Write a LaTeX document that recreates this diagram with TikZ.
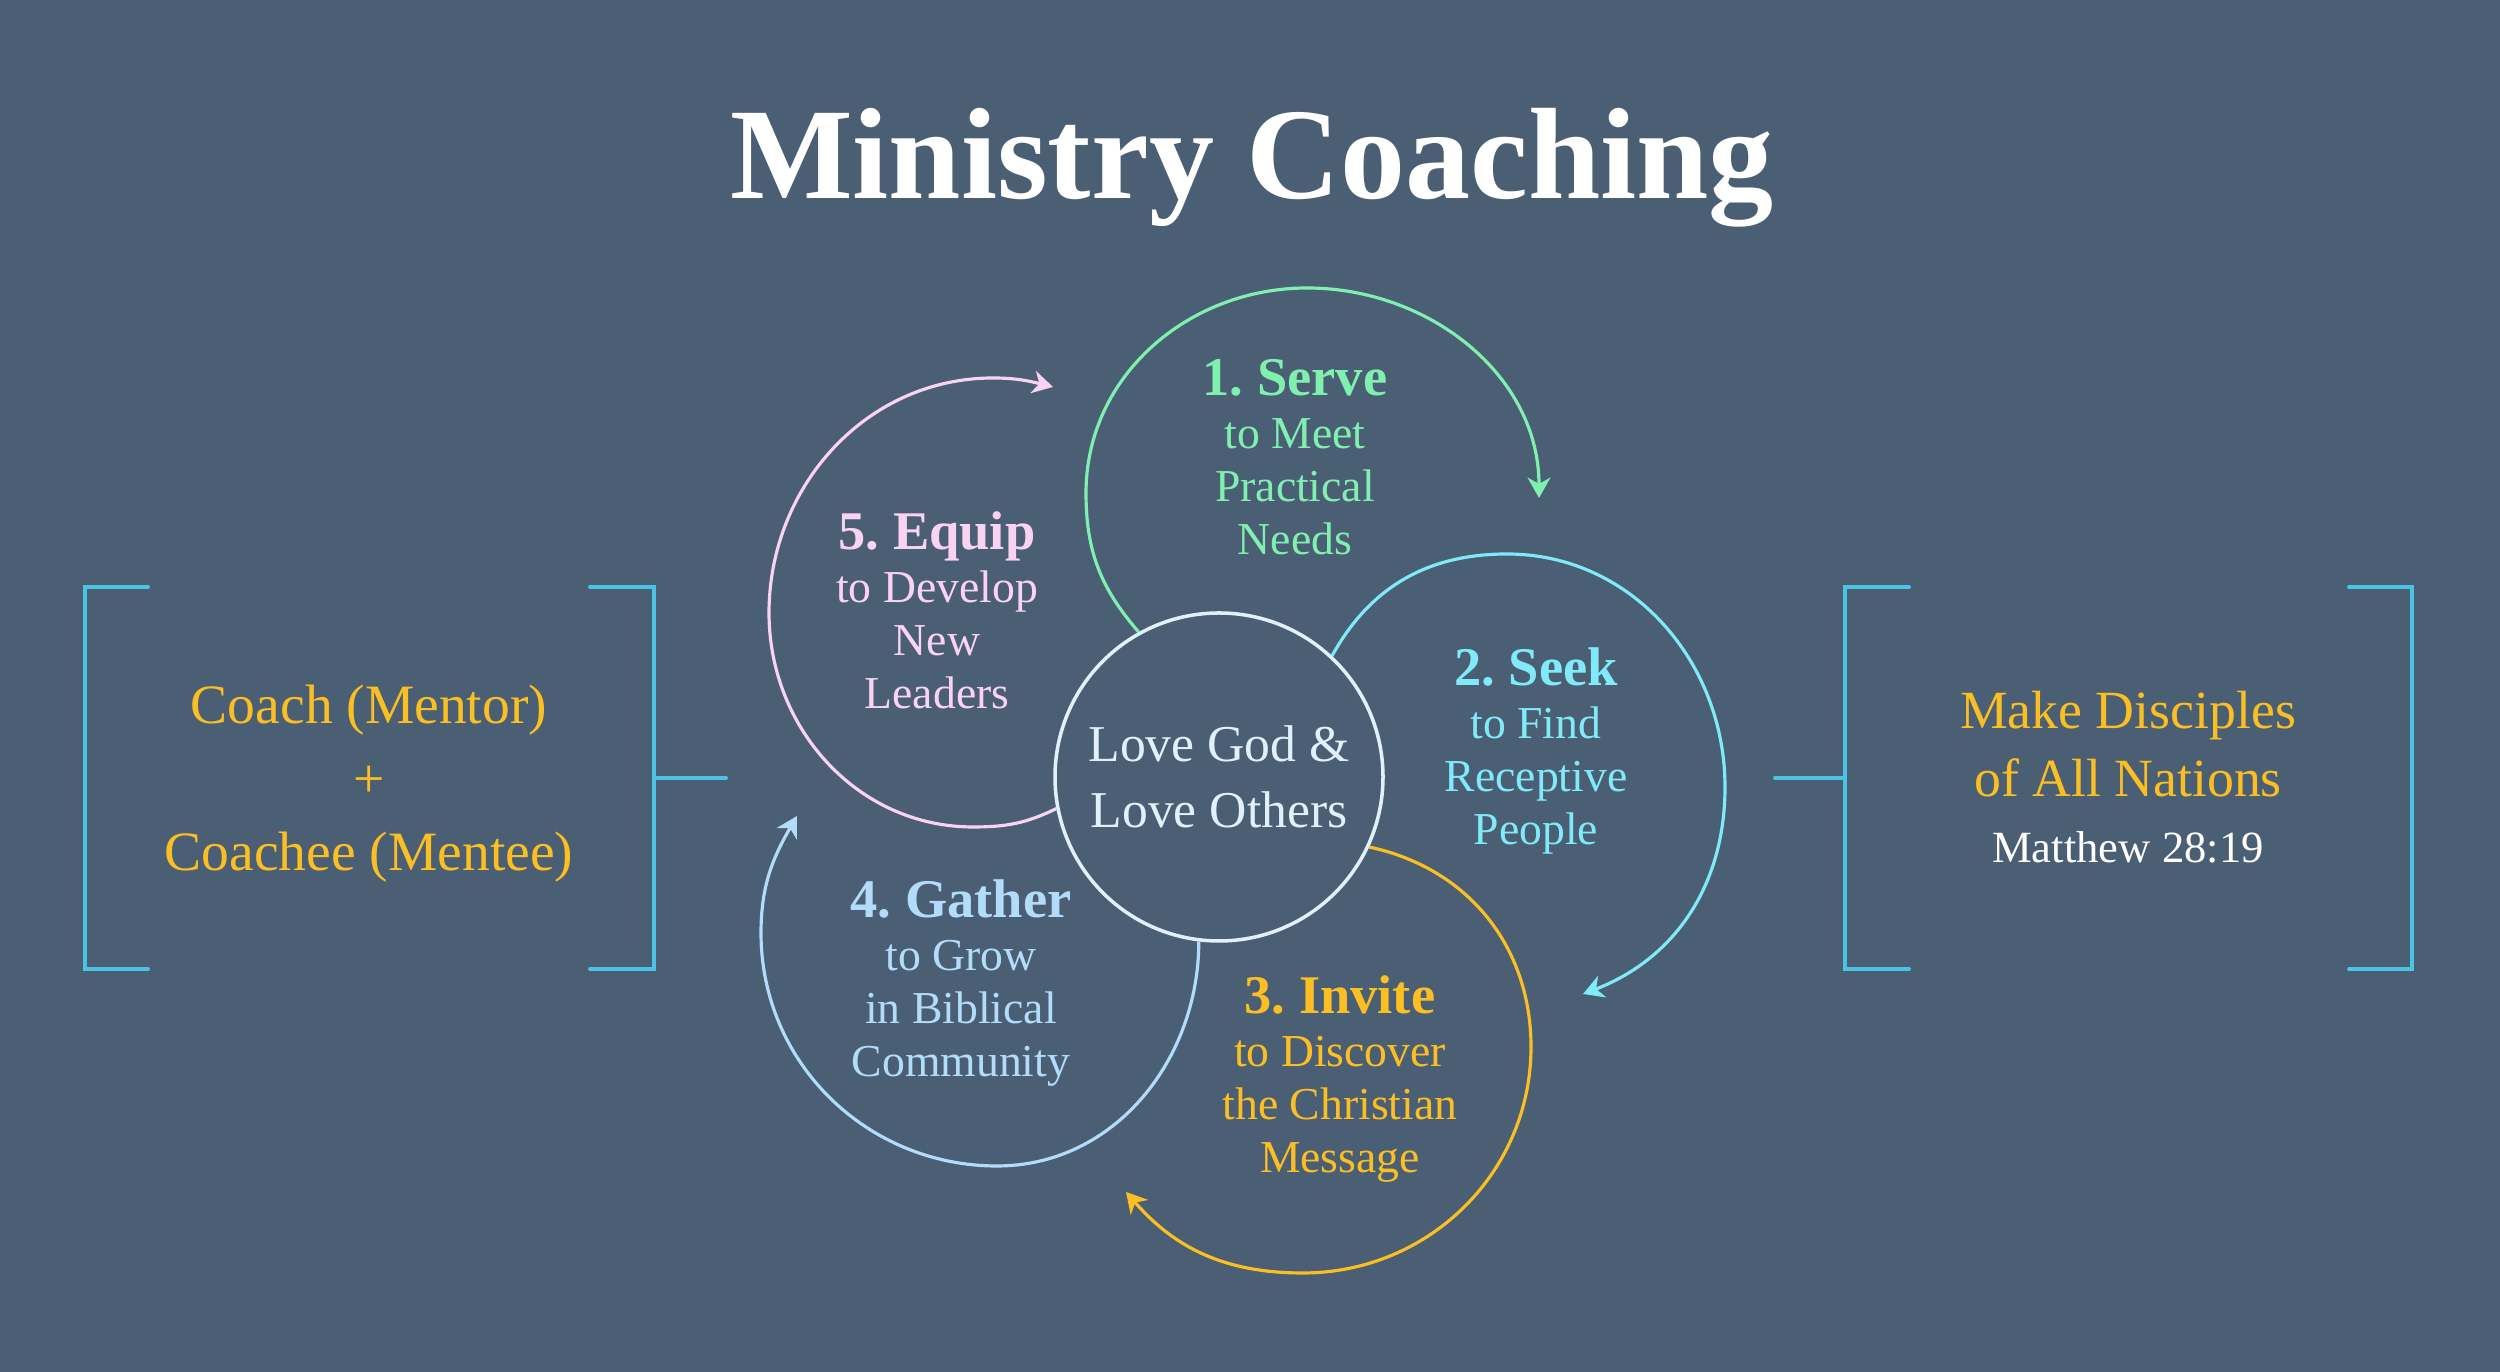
\documentclass[tikz,border=0pt]{standalone}
\usepackage{fontspec}
\setmainfont{Liberation Serif}
\usetikzlibrary{arrows.meta}
\frenchspacing

\definecolor{slate}{HTML}{4B5F74}
\definecolor{serveclr}{HTML}{80F0B0}
\definecolor{seekclr}{HTML}{80EAF8}
\definecolor{inviteclr}{HTML}{FBBF24}
\definecolor{gatherclr}{HTML}{B2DCFA}
\definecolor{equipclr}{HTML}{F9D2F4}
\definecolor{coreclr}{HTML}{E2F0FB}
\definecolor{bracketclr}{HTML}{4AC3E6}

\newcommand{\stagehead}[1]{{\fontsize{15.5}{15.1}\selectfont\bfseries #1}}

\begin{document}
\begin{tikzpicture}[
    loopline/.style={line width=0.9pt, -{Stealth[length=5.8pt, width=6.5pt, inset=1.8pt]}},
    core/.style={draw=coreclr, line width=1pt, circle, minimum size=3.28cm, inner sep=0pt, fill=slate, text=coreclr, align=center, font=\fontsize{14.7}{18.7}\selectfont},
    stage/.style={anchor=base, align=center, font=\fontsize{13}{15.1}\selectfont},
    side/.style={anchor=base, align=center, text=inviteclr, font=\fontsize{15.8}{21.05}\selectfont},
    bracket/.style={draw=bracketclr, line width=1.1pt, line cap=round}
]

% Background
\fill[slate] (0, 0) rectangle (25, 13.72);

% Title
\node[anchor=base, text=white, font=\fontsize{37}{40}\selectfont\bfseries] (title) at (12.52, 11.73) {Ministry Coaching};

% Centre
\node[core] (core) at (12.19, 5.95) {Love God \&\\Love Others};

% Loops
\draw[loopline, serveclr] (core.119) to[out=131, in=-90] (10.86, 8.79) to[out=90, in=180] (13.07, 10.84) to[out=0, in=90] (15.39, 8.74);
\draw[loopline, seekclr] (core.47) to[out=61, in=180] (15.07, 8.18) to[out=0, in=90] (17.25, 5.85) to[out=-90, in=21] (15.83, 3.78);
\draw[loopline, inviteclr] (core.-25) to[out=-12, in=90] (15.31, 3.25) to[out=-90, in=0] (13.03, 0.99) to[out=180, in=-49] (11.26, 1.80);
\draw[loopline, gatherclr] (core.-97) to[out=-90, in=0] (9.97, 2.06) to[out=180, in=-90] (7.61, 4.39) to[out=90, in=-120] (7.97, 5.56);
\draw[loopline, equipclr] (core.191) to[out=206, in=0] (9.73, 5.45) to[out=180, in=-90] (7.69, 7.59) to[out=90, in=180] (9.93, 9.94) to[out=0, in=166] (10.53, 9.85);

% Stages (base = last line)
\node[stage, text=serveclr] (serve) at (12.95, 8.17) {\stagehead{1. Serve}\\to Meet\\Practical\\Needs};
\node[stage, text=seekclr] (seek) at (15.36, 5.27) {\stagehead{2. Seek}\\to Find\\Receptive\\People};
\node[stage, text=inviteclr] (invite) at (13.40, 1.99) {\stagehead{3. Invite}\\to Discover\\the Christian\\Message};
\node[stage, text=gatherclr] (gather) at (9.61, 2.95) {\stagehead{4. Gather}\\to Grow\\in Biblical\\Community};
\node[stage, text=equipclr] (equip) at (9.37, 6.63) {\stagehead{5. Equip}\\to Develop\\New\\Leaders};

% Brackets
\draw[bracket] (1.48, 7.85) -- (0.85, 7.85) -- (0.85, 4.03) -- (1.48, 4.03);
\draw[bracket] (5.90, 7.85) -- (6.54, 7.85) -- (6.54, 4.03) -- (5.90, 4.03);
\draw[bracket] (6.54, 5.94) -- (7.26, 5.94);
\draw[bracket] (19.09, 7.85) -- (18.45, 7.85) -- (18.45, 4.03) -- (19.09, 4.03);
\draw[bracket] (23.49, 7.85) -- (24.12, 7.85) -- (24.12, 4.03) -- (23.49, 4.03);
\draw[bracket] (17.75, 5.94) -- (18.45, 5.94);

% Sides
\node[side] (pair) at (3.69, 5.01) {Coach (Mentor)\\+\\Coachee (Mentee)};
\node[side, font=\fontsize{15.3}{19.6}\selectfont] (goal) at (21.28, 5.75) {Make Disciples\\of All Nations};
\node[anchor=base, text=white, font=\fontsize{12.7}{15}\selectfont] (verse) at (21.28, 5.09) {Matthew 28:19};

\end{tikzpicture}
\end{document}
